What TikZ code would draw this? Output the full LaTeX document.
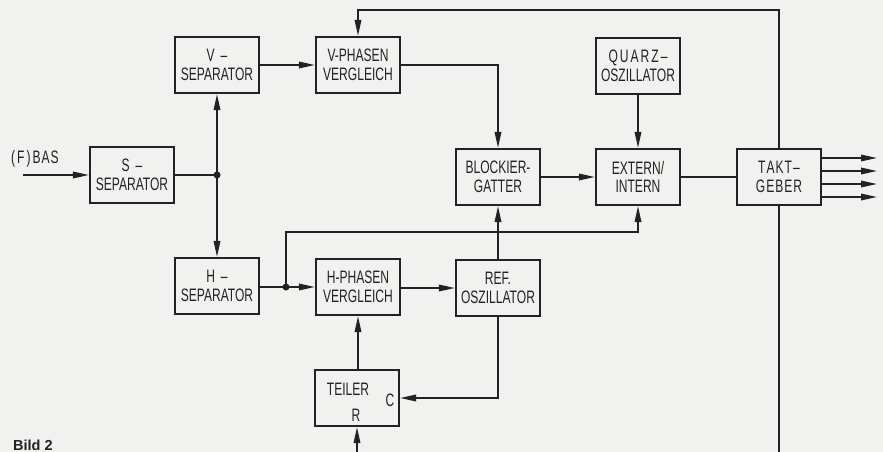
\documentclass[tikz,border=0pt]{standalone}
\usepackage{fontspec}
\setmainfont{Liberation Sans}[FakeStretch=0.67]
\newfontfamily\bildfont{Liberation Sans}
\usetikzlibrary{arrows.meta}
\definecolor{paper}{RGB}{241,241,240}
\definecolor{ink}{RGB}{34,34,34}
\tikzset{
  blk/.style={draw=ink, line width=2.1pt, minimum width=84pt, minimum height=56pt,
    inner sep=0pt, align=center, font=\fontsize{18}{18.5}\selectfont, text=ink},
  conn/.style={draw=ink, line width=1.7pt},
  arr/.style={conn, -{Triangle[length=16pt,width=6.5pt]}},
  jdot/.style={circle, fill=ink, inner sep=0pt, minimum size=7pt},
  lbl/.style={font=\fontsize{18}{18.5}\selectfont, text=ink, inner sep=0pt},
}
\begin{document}
\begin{tikzpicture}[x=1pt,y=-1pt]
\fill[paper] (0,0) rectangle (883,452);
\useasboundingbox (0,0) rectangle (883,452);

% blocks
\node[blk] (ssep)   at (132,175) {S\,\,–\\SEPARATOR};
\node[blk] (vsep)   at (217,65)  {V\,\,–\\SEPARATOR};
\node[blk] (vph)    at (358,65)  {V-PHASEN\\VERGLEICH};
\node[blk] (hsep)   at (217,286) {H\,\,–\\SEPARATOR};
\node[blk] (hph)    at (358,287) {H-PHASEN\\VERGLEICH};
\node[blk] (teiler) at (357,398) {};
\node[blk] (quarz)  at (638,66)  {Q\kern2pt U\kern2pt A\kern2pt R\kern2pt Z\kern2pt –\\OSZILLATOR};
\node[blk] (block)  at (498,177) {BLOCKIER-\\GATTER};
\node[blk] (ext)    at (638,177) {EXTERN/\\INTERN};
\node[blk] (takt)   at (779,177) {T\kern1pt A\kern1pt K\kern1pt T\kern1pt –\\G\kern1pt E\kern1pt B\kern1pt E\kern1pt R};
\node[blk] (ref)    at (498,288) {REF.\\OSZILLATOR};

% texts inside TEILER
\node[lbl] (tname) at (348,389) {TEILER};
\node[lbl] (tc)    at (390,400) {C};
\node[lbl] (tr)    at (356,415) {R};

% labels
\node[lbl, anchor=west] (fbas) at (11,159) {(\kern2pt F\kern2pt )\kern2pt B\kern1pt A\kern1pt S};
\node[anchor=base west, inner sep=0pt, text=ink, font=\bildfont\bfseries\fontsize{14.5}{16}\selectfont] (bild) at (13,450) {Bild 2};

% coordinates
\coordinate (in)  at (23,175);
\coordinate (j1)  at (217,175);
\coordinate (j2)  at (286,287);
\coordinate (top) at (779,10);
\coordinate (hbus) at (286,232);
\coordinate (botT) at (357,452);
\coordinate (botK) at (779,452);
\coordinate (o1) at (877,158);
\coordinate (o2) at (877,171);
\coordinate (o3) at (877,184);
\coordinate (o4) at (877,197);

% connectors
\draw[arr] (in) -- (ssep.west);
\draw[conn] (ssep.east) -- (j1);
\draw[arr] (j1) -- (vsep.south);
\draw[arr] (j1) -- (hsep.north);
\draw[arr] (vsep.east) -- (vph.west);
\draw[arr] (vph.east) -| (block.north);
\draw[arr] (takt.north) -- (top) -| (vph.north);
\draw[arr] (quarz.south) -- (ext.north);
\draw[arr] (block.east) -- (ext.west);
\draw[conn] (ext.east) -- (takt.west);
\draw[arr] (takt.east |- o1) -- (o1);
\draw[arr] (takt.east |- o2) -- (o2);
\draw[arr] (takt.east |- o3) -- (o3);
\draw[arr] (takt.east |- o4) -- (o4);
\draw[conn] (hsep.east |- j2) -- (j2);
\draw[arr] (j2) -- (hph.west |- j2);
\draw[arr] (j2) -- (hbus) -| (ext.south);
\draw[arr] (ref.north) -- (block.south);
\draw[arr] (hph.east |- ref.west) -- (ref.west);
\draw[arr] (ref.south) |- (teiler.east);
\draw[arr] (hph.south |- teiler.north) -- (hph.south);
\draw[arr] (botT) -- (teiler.south);
\draw[conn] (takt.south) -- (botK);

\node[jdot] at (j1) {};
\node[jdot] at (j2) {};
\end{tikzpicture}
\end{document}
